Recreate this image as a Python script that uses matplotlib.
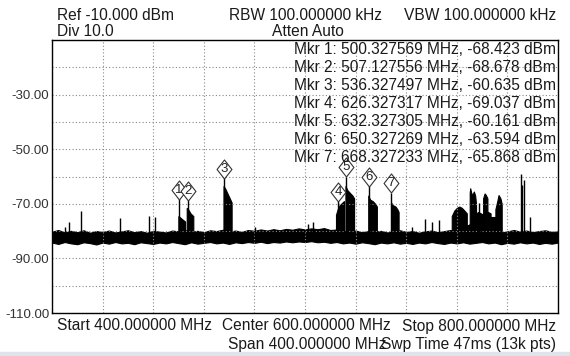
#Spectrum analyzer screen: trace with 7 markers

import matplotlib
matplotlib.use('Agg')
import matplotlib.pyplot as plt
from matplotlib.path import Path
from matplotlib.patches import Rectangle
from matplotlib.transforms import offset_copy

plt.rcParams['font.family'] = ['Liberation Sans', 'DejaVu Sans']

#Noise floor of the trace (MHz, dBm): upper and lower edge of the band, every 5 MHz
floor_f = [400 + 5*i for i in range(81)]
floor_hi = [-80.2, -79.6, -80.5, -79.9, -80.4, -79.7, -80.6, -80.0, -80.3, -79.8,
            -80.5, -80.1, -79.7, -80.4, -80.0, -80.6, -79.9, -80.2, -80.5, -79.8,
            -80.1, -79.6, -80.3, -79.9, -80.4, -79.7, -80.0, -79.5, -80.2, -79.8,
            -80.3, -79.6, -79.9, -79.4, -79.8, -79.3, -79.7, -79.2, -79.5, -79.0,
            -79.4, -79.0, -79.3, -78.9, -79.6, -79.4, -79.9, -80.2, -79.8, -80.4,
            -80.0, -80.3, -79.9, -80.5, -80.1, -79.7, -80.3, -80.0, -80.6, -80.1,
            -79.8, -80.4, -80.0, -79.6, -80.2, -79.9, -80.4, -80.0, -79.7, -80.3,
            -79.9, -80.5, -80.1, -79.6, -80.2, -79.8, -80.4, -80.0, -79.7, -80.3, -80.1]
floor_lo = [-84.2, -84.7, -84.0, -84.5, -84.8, -84.1, -84.4, -84.9, -84.2, -84.6,
            -84.0, -84.5, -84.3, -84.8, -84.1, -84.4, -84.7, -84.2, -84.5, -84.0,
            -84.4, -84.8, -84.1, -84.6, -84.3, -84.0, -84.5, -84.2, -84.7, -84.1,
            -84.4, -84.0, -84.3, -83.9, -84.4, -84.0, -84.2, -83.8, -84.1, -83.8,
            -84.0, -83.7, -84.1, -83.9, -84.3, -84.0, -84.5, -84.2, -84.6, -84.1,
            -84.4, -84.8, -84.2, -84.5, -84.1, -84.6, -84.3, -84.7, -84.2, -84.5,
            -84.0, -84.4, -84.7, -84.2, -84.5, -84.1, -84.6, -84.3, -84.0, -84.5,
            -84.2, -84.8, -84.3, -84.6, -84.1, -84.5, -84.2, -84.7, -84.3, -84.6, -84.2]

#Occupied channels: frequencies and top level of each block
blocks_f = [
    [499.9, 500.8, 502.5, 505.2],
    [506.5, 507.6, 509.5, 511.7],
    [535.6, 537.0, 539.0, 541.0, 542.0],
    [624.5, 626.5, 628.5, 630.8],
    [632.0, 633.5, 635.5, 637.5, 638.8],
    [650.0, 651.5, 653.5, 655.5, 656.8],
    [668.0, 669.5, 671.5, 673.0, 674.0],
    [716.0, 718.0, 720.0, 722.0, 724.0, 726.0, 727.9],
    [727.9, 730.2],
    [730.2, 730.6, 731.5, 732.5, 733.5, 734.5, 735.2],
    [735.2, 737.0, 739.0, 740.8],
    [740.8, 742.0, 743.0, 744.2],
    [744.2, 746.7],
    [746.7, 750.5],
    [750.5, 752.0, 753.0, 754.5, 755.5],
]
blocks_top = [
    [-74.5, -74.8, -75.5, -76.5],
    [-71.5, -72.0, -73.5, -74.5],
    [-63.5, -64.5, -66.5, -68.5, -69.5],
    [-74.0, -71.0, -70.0, -69.0],
    [-63.5, -65.0, -66.0, -67.0, -68.0],
    [-67.0, -68.5, -69.0, -70.0, -71.0],
    [-69.5, -70.5, -71.0, -72.0, -73.0],
    [-74.5, -72.5, -71.5, -71.0, -71.5, -72.5, -73.5],
    [-78.0, -77.5],
    [-66.0, -64.3, -66.2, -66.5, -65.5, -67.0, -70.0],
    [-73.5, -73.0, -73.5, -74.0],
    [-68.0, -66.2, -66.8, -68.0],
    [-72.9, -73.5],
    [-75.0, -75.0],
    [-72.0, -69.0, -66.8, -68.0, -70.0],
]

#Narrow spurs
spike_f = [410.0, 413.2, 423.2, 453.5, 476.4, 481.7, 560.5, 602.0, 606.5, 684.3,
           695.0, 700.6, 706.2, 737.8, 770.7, 771.6, 773.4, 778.0]
spike_db = [-78.5, -76.7, -72.6, -75.2, -74.5, -75.0, -78.5, -77.5, -76.5, -78.4,
            -75.6, -76.6, -76.0, -69.8, -59.0, -63.0, -61.3, -75.0]

#Markers
mkr_f = [500.327569, 507.127556, 536.327497, 626.327317, 632.327305, 650.327269, 668.327233]
mkr_db = [-68.423, -68.678, -60.635, -69.037, -60.161, -63.594, -65.868]

y_ticks = [-110, -100, -90, -80, -70, -60, -50, -40, -30, -20, -10]
y_labels = ['-110.00', '', '-90.00', '', '-70.00', '', '-50.00', '', '-30.00', '', '']
x_ticks = [400, 440, 480, 520, 560, 600, 640, 680, 720, 760, 800]

fig = plt.figure(figsize=(5.7, 3.56), dpi=100)
ax = fig.add_axes([52/570, 1-313/356, 506/570, 273/356])

#Trace
ax.fill_between(floor_f, floor_lo, floor_hi, color='black', lw=0.8)
for f, top in zip(blocks_f, blocks_top):
    ax.fill_between(f, -83, top, color='black', lw=0.8)
ax.vlines(spike_f, -82, spike_db, color='black', lw=1.0)
ax.vlines(mkr_f, -82, mkr_db, color='black', lw=1.0)

#Marker diamonds with numbers
diamond = Path([(0, 1), (0.78, 0), (0, -1), (-0.78, 0), (0, 1)],
               [Path.MOVETO, Path.LINETO, Path.LINETO, Path.LINETO, Path.CLOSEPOLY])
up = offset_copy(ax.transData, fig=fig, x=0, y=6.9, units='points')
for i in range(len(mkr_f)):
    ax.plot(mkr_f[i], mkr_db[i], marker=diamond, ms=13.7, mfc='white', mec='#333333',
            mew=0.8, transform=up, zorder=5)
    ax.text(mkr_f[i], mkr_db[i], str(i+1), transform=up, ha='center', va='center',
            fontsize=9.5, color='#222222', zorder=6)

ax.set_xlim(400, 800)
ax.set_ylim(-110, -10)
ax.set_xticks(x_ticks)
ax.set_yticks(y_ticks)
ax.set_yticklabels(y_labels)
ax.set_xticklabels([])
ax.tick_params(length=0, pad=2, labelsize=9.5, colors='#333333')
ax.grid(True, color='#888888', linestyle=(0, (1, 2)), lw=0.8)
for s in ax.spines.values():
    s.set_linewidth(1.0)

#Header texts
def px_text(x, y, s, ha='left'):
    fig.text(x/570, 1-y/356, s, ha=ha, va='center', fontsize=11.2, color='#1a1a1a')

px_text(57, 15, 'Ref -10.000 dBm')
px_text(57, 31, 'Div 10.0')
px_text(229, 15, 'RBW 100.000000 kHz')
px_text(556, 15, 'VBW 100.000000 kHz', ha='right')
px_text(272, 31, 'Atten Auto')
for i in range(len(mkr_f)):
    px_text(556, 50 + 17.9*i, 'Mkr %d: %.6f MHz, %.3f dBm' % (i+1, mkr_f[i], mkr_db[i]), ha='right')

#Footer texts
px_text(57, 326, 'Start 400.000000 MHz')
px_text(222, 326, 'Center 600.000000 MHz')
px_text(556, 326, 'Stop 800.000000 MHz', ha='right')
px_text(228, 344, 'Span 400.000000 MHz')
px_text(556, 344, 'Swp Time 47ms (13k pts)', ha='right')

fig.patches.append(Rectangle((0, 0), 1, 4/356, transform=fig.transFigure,
                             color='#dfe4ea', zorder=0))

fig.savefig('out.png', dpi=100)
